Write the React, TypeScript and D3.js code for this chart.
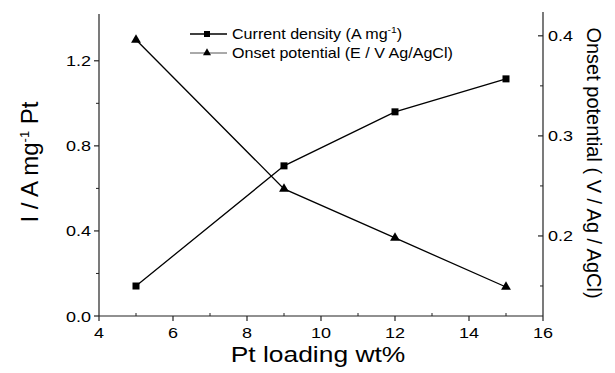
import * as d3 from "d3";

// Pt loading (wt%)
const loading = [5, 9, 12, 15];
// current density, A mg-1 Pt (left axis)
const currentDensity = [0.141, 0.706, 0.96, 1.115];
// onset potential, V vs Ag/AgCl (right axis)
const onsetPotential = [0.396, 0.247, 0.198, 0.149];

const xTicks = [4, 6, 8, 10, 12, 14, 16];
const xMinor = [5, 7, 9, 11, 13, 15];
const yLeftTicks = [0, 0.4, 0.8, 1.2];
const yLeftMinor = [0.2, 0.6, 1.0];
const yRightTicks = [0.2, 0.3, 0.4];
const yRightMinor = [0.15, 0.25, 0.35];

const W = 615;
const H = 373;
const m = { left: 99, right: 72, top: 14, bottom: 57 };
const FONT = "Liberation Sans, Arial, Helvetica, sans-serif";

function Txt({ x, y, sx = 1.2, size, anchor = "middle", children }: any) {
    return (
        <text
            transform={`translate(${x},${y}) scale(${sx},1)`}
            fontSize={size}
            textAnchor={anchor}
            fontFamily={FONT}
            fill="#000"
        >
            {children}
        </text>
    );
}

export default function App() {
    const x = d3.scaleLinear().domain([4, 16]).range([m.left, W - m.right]);
    const yL = d3.scaleLinear().domain([0, 1.42]).range([H - m.bottom, m.top]);
    const yR = d3.scaleLinear().domain([0.12, 0.4218]).range([H - m.bottom, m.top]);

    const pts1 = loading.map((v, i) => [x(v), yL(currentDensity[i])] as [number, number]);
    const pts2 = loading.map((v, i) => [x(v), yR(onsetPotential[i])] as [number, number]);
    const line = d3.line();
    const tri = d3.symbol().type(d3.symbolTriangle).size(42);

    const x0 = m.left;
    const x1 = W - m.right;
    const yb = H - m.bottom;

    return (
        <svg width={W} height={H} style={{ position: "absolute", left: 0, top: 0, background: "#fff" }}>
            {/* axes lines */}
            <line x1={x0} x2={x0} y1={m.top} y2={yb} stroke="#222" strokeWidth={1.2} />
            <line x1={x1} x2={x1} y1={m.top - 2} y2={yb} stroke="#222" strokeWidth={1.2} />
            <line x1={x0} x2={x1} y1={yb} y2={yb} stroke="#222" strokeWidth={1.2} />

            {/* bottom axis */}
            {xTicks.map((t) => (
                <g key={"xt" + t}>
                    <line x1={x(t)} x2={x(t)} y1={yb} y2={yb + 5} stroke="#222" strokeWidth={1.2} />
                    <Txt x={x(t)} y={yb + 22} size={15}>{t}</Txt>
                </g>
            ))}
            {xMinor.map((t) => (
                <line key={"xm" + t} x1={x(t)} x2={x(t)} y1={yb} y2={yb - 3} stroke="#222" strokeWidth={1} />
            ))}

            {/* left axis */}
            {yLeftTicks.map((t) => (
                <g key={"yl" + t}>
                    <line x1={x0} x2={x0 - 5} y1={yL(t)} y2={yL(t)} stroke="#222" strokeWidth={1.2} />
                    <Txt x={x0 - 8} y={yL(t) + 5.5} size={15} anchor="end">{t.toFixed(1)}</Txt>
                </g>
            ))}
            {yLeftMinor.map((t) => (
                <line key={"ylm" + t} x1={x0} x2={x0 - 3} y1={yL(t)} y2={yL(t)} stroke="#222" strokeWidth={1} />
            ))}

            {/* right axis */}
            {yRightTicks.map((t) => (
                <g key={"yr" + t}>
                    <line x1={x1} x2={x1 - 5} y1={yR(t)} y2={yR(t)} stroke="#222" strokeWidth={1.2} />
                    <Txt x={x1 + 5} y={yR(t) + 5.5} size={15} anchor="start">{t.toFixed(1)}</Txt>
                </g>
            ))}
            {yRightMinor.map((t) => (
                <line key={"yrm" + t} x1={x1} x2={x1 - 3} y1={yR(t)} y2={yR(t)} stroke="#222" strokeWidth={1} />
            ))}

            {/* axis titles */}
            <Txt x={318} y={362} size={22}>Pt loading wt%</Txt>
            <text
                transform={`translate(38,162) rotate(-90)`}
                fontSize={24}
                textAnchor="middle"
                fontFamily={FONT}
            >
                I / A mg<tspan dy={-9} fontSize={13}>-1</tspan><tspan dy={9}> Pt</tspan>
            </text>
            <text
                transform={`translate(587,163) rotate(90)`}
                fontSize={20}
                textAnchor="middle"
                fontFamily={FONT}
            >
                Onset potential ( V / Ag / AgCl)
            </text>

            {/* series */}
            <path d={line(pts1) || ""} fill="none" stroke="#000" strokeWidth={1.3} />
            <path d={line(pts2) || ""} fill="none" stroke="#000" strokeWidth={1.3} />
            {pts1.map(([px, py], i) => (
                <rect key={"s" + i} x={px - 3.5} y={py - 3.5} width={7} height={7} fill="#000" />
            ))}
            {pts2.map(([px, py], i) => (
                <path key={"t" + i} d={tri() || ""} transform={`translate(${px},${py})`} fill="#000" />
            ))}

            {/* legend */}
            <g>
                <line x1={190} x2={227} y1={34} y2={34} stroke="#000" strokeWidth={1.3} />
                <rect x={204} y={31} width={6} height={6} fill="#000" />
                <Txt x={232} y={39} size={14} sx={1.15} anchor="start">
                    Current density (A mg<tspan dy={-6} fontSize={9}>-1</tspan><tspan dy={6}>)</tspan>
                </Txt>
                <line x1={190} x2={227} y1={53} y2={53} stroke="#555" strokeWidth={1} />
                <path d={d3.symbol().type(d3.symbolTriangle).size(28)() || ""} transform="translate(207,53)" fill="#000" />
                <Txt x={232} y={58} size={14} sx={1.15} anchor="start">
                    Onset potential (E / V Ag/AgCl)
                </Txt>
            </g>
        </svg>
    );
}
